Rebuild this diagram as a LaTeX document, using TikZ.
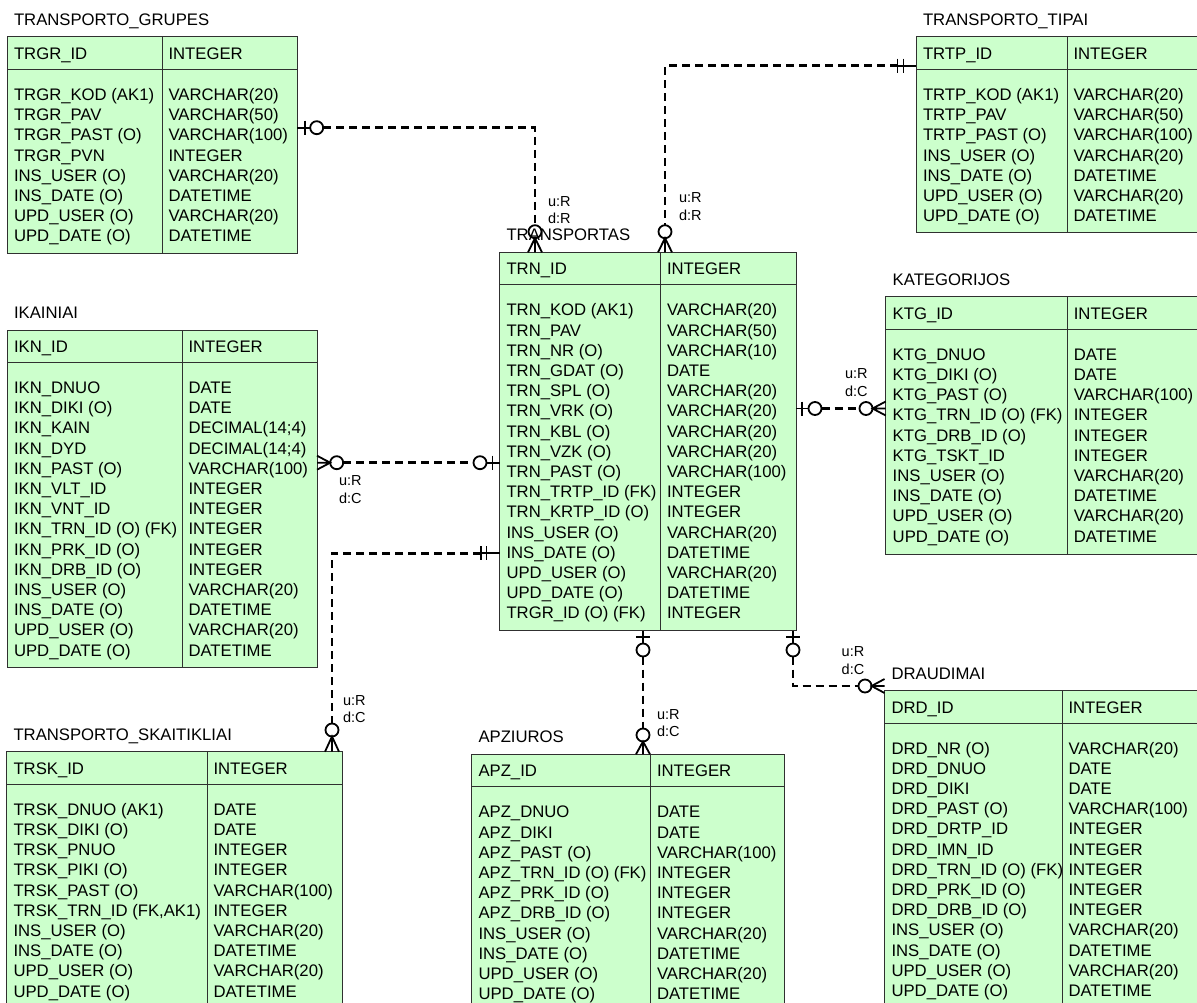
\documentclass[tikz,border=0pt]{standalone}
\usepackage{fontspec}
\setmainfont{Liberation Sans}
\usetikzlibrary{calc}
\definecolor{tblfill}{HTML}{CCFFCC}
\definecolor{tblline}{HTML}{303030}
\tikzset{
  tbl/.style={rectangle, draw=tblline, fill=tblfill, line width=1pt, inner sep=0pt, outer sep=0pt, anchor=north west},
  tblrule/.style={draw=tblline, line width=1pt},
  cell/.style={anchor=west, inner sep=0pt, outer sep=0pt, text height=12pt, text depth=0pt, font=\fontsize{16.7}{20}\selectfont},
  lbl/.style={anchor=west, inner sep=0pt, outer sep=0pt, text height=10.4pt, text depth=0pt, font=\fontsize{14.5}{17}\selectfont},
  circ/.style={circle, draw=black, line width=1.8pt, minimum size=13pt, inner sep=0pt, outer sep=0pt},
  sym/.style={draw=black, line width=1.8pt},
  rel/.style={draw=black, line width=2.8pt, dash pattern=on 8pt off 5pt},
}
% #1 name #2 left #3 divider #4 right #5 top #6 bottom #7 title #8 key
\newcommand{\ertable}[8]{%
  \pgfmathsetmacro{\erw}{#4-#2}%
  \pgfmathsetmacro{\erh}{#6-#5}%
  \node[tbl, minimum width=\erw pt, minimum height=\erh pt] (#1) at ({#2},{#5}) {};
  \draw[tblrule] ({#2},{#5+32.5}) -- ({#4},{#5+32.5});
  \draw[tblrule] ({#3},{#5}) -- ({#3},{#6});
  \node[cell] (#1-title) at ({#2+7},{#5-17.5}) {#7};
  \node[cell] (#1-key) at ({#2+7},{#5+16.5}) {#8};
  \node[cell] (#1-keytype) at ({#3+6.5},{#5+16.5}) {INTEGER};
}
% #1 prefix #2 x #3 top #4 list
\newcommand{\errows}[4]{%
  \foreach \rr [count=\nn] in {#4} {
    \node[cell] (#1\nn) at ({#2},{#3+57.5+(\nn-1)*20.2}) {\rr};
  }
}
\begin{document}
\begin{tikzpicture}[x=1pt,y=-1pt]
\useasboundingbox (0,0) rectangle (1197,1003);
\clip (0,0) rectangle (1197,1003);

% ---------------- tables
\ertable{grp}{7}{162}{297}{37}{254}{TRANSPORTO\_GRUPES}{TRGR\_ID}
\errows{grp-l}{14}{37}{TRGR\_KOD (AK1),TRGR\_PAV,TRGR\_PAST (O),TRGR\_PVN,INS\_USER (O),INS\_DATE (O),UPD\_USER (O),UPD\_DATE (O)}
\errows{grp-r}{168.5}{37}{VARCHAR(20),VARCHAR(50),VARCHAR(100),INTEGER,VARCHAR(20),DATETIME,VARCHAR(20),DATETIME}

\ertable{tip}{916}{1067}{1215}{37}{233}{TRANSPORTO\_TIPAI}{TRTP\_ID}
\errows{tip-l}{923}{37}{TRTP\_KOD (AK1),TRTP\_PAV,TRTP\_PAST (O),INS\_USER (O),INS\_DATE (O),UPD\_USER (O),UPD\_DATE (O)}
\errows{tip-r}{1073.5}{37}{VARCHAR(20),VARCHAR(50),VARCHAR(100),VARCHAR(20),DATETIME,VARCHAR(20),DATETIME}

\ertable{trn}{499.5}{660.5}{796}{252.3}{630.5}{TRANSPORTAS}{TRN\_ID}
\errows{trn-l}{506.5}{252.3}{TRN\_KOD (AK1),TRN\_PAV,TRN\_NR (O),TRN\_GDAT (O),TRN\_SPL (O),TRN\_VRK (O),TRN\_KBL (O),TRN\_VZK (O),TRN\_PAST (O),TRN\_TRTP\_ID (FK),TRN\_KRTP\_ID (O),INS\_USER (O),INS\_DATE (O),UPD\_USER (O),UPD\_DATE (O),TRGR\_ID (O) (FK)}
\errows{trn-r}{667}{252.3}{VARCHAR(20),VARCHAR(50),VARCHAR(10),DATE,VARCHAR(20),VARCHAR(20),VARCHAR(20),VARCHAR(20),VARCHAR(100),INTEGER,INTEGER,VARCHAR(20),DATETIME,VARCHAR(20),DATETIME,INTEGER}

\ertable{ktg}{885.7}{1067.3}{1215}{296.7}{554}{KATEGORIJOS}{KTG\_ID}
\errows{ktg-l}{892.7}{296.7}{KTG\_DNUO,KTG\_DIKI (O),KTG\_PAST (O),KTG\_TRN\_ID (O) (FK),KTG\_DRB\_ID (O),KTG\_TSKT\_ID,INS\_USER (O),INS\_DATE (O),UPD\_USER (O),UPD\_DATE (O)}
\errows{ktg-r}{1073.8}{296.7}{DATE,DATE,VARCHAR(100),INTEGER,INTEGER,INTEGER,VARCHAR(20),DATETIME,VARCHAR(20),DATETIME}

\ertable{ikn}{7}{182}{317}{330}{667.5}{IKAINIAI}{IKN\_ID}
\errows{ikn-l}{14}{330}{IKN\_DNUO,IKN\_DIKI (O),IKN\_KAIN,IKN\_DYD,IKN\_PAST (O),IKN\_VLT\_ID,IKN\_VNT\_ID,IKN\_TRN\_ID (O) (FK),IKN\_PRK\_ID (O),IKN\_DRB\_ID (O),INS\_USER (O),INS\_DATE (O),UPD\_USER (O),UPD\_DATE (O)}
\errows{ikn-r}{188.5}{330}{DATE,DATE,DECIMAL(14;4),DECIMAL(14;4),VARCHAR(100),INTEGER,INTEGER,INTEGER,INTEGER,INTEGER,VARCHAR(20),DATETIME,VARCHAR(20),DATETIME}

\ertable{tsk}{6.5}{207}{342}{751.7}{1015}{TRANSPORTO\_SKAITIKLIAI}{TRSK\_ID}
\errows{tsk-l}{13.5}{751.7}{TRSK\_DNUO (AK1),TRSK\_DIKI (O),TRSK\_PNUO,TRSK\_PIKI (O),TRSK\_PAST (O),{TRSK\_TRN\_ID (FK,AK1)},INS\_USER (O),INS\_DATE (O),UPD\_USER (O),UPD\_DATE (O)}
\errows{tsk-r}{213.5}{751.7}{DATE,DATE,INTEGER,INTEGER,VARCHAR(100),INTEGER,VARCHAR(20),DATETIME,VARCHAR(20),DATETIME}

\ertable{apz}{471.5}{650.5}{784}{754.3}{1015}{APZIUROS}{APZ\_ID}
\errows{apz-l}{478.5}{754.3}{APZ\_DNUO,APZ\_DIKI,APZ\_PAST (O),APZ\_TRN\_ID (O) (FK),APZ\_PRK\_ID (O),APZ\_DRB\_ID (O),INS\_USER (O),INS\_DATE (O),UPD\_USER (O),UPD\_DATE (O)}
\errows{apz-r}{657}{754.3}{DATE,DATE,VARCHAR(100),INTEGER,INTEGER,INTEGER,VARCHAR(20),DATETIME,VARCHAR(20),DATETIME}

\ertable{drd}{884.5}{1062}{1215}{690.5}{1030}{DRAUDIMAI}{DRD\_ID}
\errows{drd-l}{891.5}{690.5}{DRD\_NR (O),DRD\_DNUO,DRD\_DIKI,DRD\_PAST (O),DRD\_DRTP\_ID,DRD\_IMN\_ID,DRD\_TRN\_ID (O) (FK),DRD\_PRK\_ID (O),DRD\_DRB\_ID (O),INS\_USER (O),INS\_DATE (O),UPD\_USER (O),UPD\_DATE (O)}
\errows{drd-r}{1068.5}{690.5}{VARCHAR(20),DATE,DATE,VARCHAR(100),INTEGER,INTEGER,INTEGER,INTEGER,INTEGER,VARCHAR(20),DATETIME,VARCHAR(20),DATETIME}

% ---------------- C1: TRANSPORTO_GRUPES -> TRANSPORTAS
\node[circ] (c1a) at (316.7,127.7) {};
\node[circ] (c1b) at (535,231.7) {};
\draw[rel] (c1a) -| (c1b);
\draw[sym] (grp.east |- c1a) -- (c1a.west);
\draw[sym] ($(grp.east |- c1a)+(8,-7)$) -- ++(0,14);
\draw[sym] ($(c1b.south |- trn.north)+(-7,0)$) -- (c1b.south) -- ($(c1b.south |- trn.north)+(7,0)$)
           (c1b.south) -- (c1b.south |- trn.north);
\node[lbl] (l1u) at (548,201) {u:R};
\node[lbl] (l1d) at (548,218.5) {d:R};

% ---------------- C2: TRANSPORTO_TIPAI -> TRANSPORTAS
\coordinate (c2a) at (897.5,65.7);
\node[circ] (c2b) at (665,231.7) {};
\draw[rel] (c2a) -| (c2b);
\draw[sym] (c2a) -- (tip.west |- c2a);
\draw[sym] ($(c2a)+(0,-7)$) -- ++(0,14) ($(c2a)+(6,-7)$) -- ++(0,14);
\draw[sym] ($(c2b.south |- trn.north)+(-7,0)$) -- (c2b.south) -- ($(c2b.south |- trn.north)+(7,0)$)
           (c2b.south) -- (c2b.south |- trn.north);
\node[lbl] (l2u) at (679,197) {u:R};
\node[lbl] (l2d) at (679,215) {d:R};

% ---------------- C3: TRANSPORTAS -> IKAINIAI
\node[circ] (c3a) at (336.7,462.7) {};
\node[circ] (c3b) at (480,462.7) {};
\draw[rel] (c3a) -- (c3b);
\draw[sym] ($(ikn.east |- c3a)+(0,-7)$) -- (c3a.west) -- ($(ikn.east |- c3a)+(0,7)$)
           (c3a.west) -- (ikn.east |- c3a);
\draw[sym] (c3b.east) -- (trn.west |- c3b);
\draw[sym] ($(trn.west |- c3b)+(-7,-7)$) -- ++(0,14);
\node[lbl] (l3u) at (339,480) {u:R};
\node[lbl] (l3d) at (339,498) {d:C};

% ---------------- C4: TRANSPORTAS -> TRANSPORTO_SKAITIKLIAI
\coordinate (c4a) at (481,553.3);
\node[circ] (c4b) at (332,730) {};
\draw[rel] (c4a) -| (c4b);
\draw[sym] (c4a) -- (trn.west |- c4a);
\draw[sym] ($(c4a)+(0,-7)$) -- ++(0,14) ($(c4a)+(5.5,-7)$) -- ++(0,14);
\draw[sym] ($(c4b.south |- tsk.north)+(-7,0)$) -- (c4b.south) -- ($(c4b.south |- tsk.north)+(7,0)$)
           (c4b.south) -- (c4b.south |- tsk.north);
\node[lbl] (l4u) at (343,700) {u:R};
\node[lbl] (l4d) at (343,717.5) {d:C};

% ---------------- C5: TRANSPORTAS -> APZIUROS
\node[circ] (c5a) at (643,650) {};
\node[circ] (c5b) at (643,735) {};
\draw[rel] (c5a) -- (c5b);
\draw[sym] (c5a.north) -- (c5a.north |- trn.south);
\draw[sym] ($(c5a.north |- trn.south)+(-7,6.7)$) -- ++(14,0);
\draw[sym] ($(c5b.south |- apz.north)+(-7,0)$) -- (c5b.south) -- ($(c5b.south |- apz.north)+(7,0)$)
           (c5b.south) -- (c5b.south |- apz.north);
\node[lbl] (l5u) at (657,714) {u:R};
\node[lbl] (l5d) at (657,731.5) {d:C};

% ---------------- C6: TRANSPORTAS -> DRAUDIMAI
\node[circ] (c6a) at (793,650) {};
\node[circ] (c6b) at (865,686) {};
\draw[rel] (c6a) |- (c6b);
\draw[sym] (c6a.north) -- (c6a.north |- trn.south);
\draw[sym] ($(c6a.north |- trn.south)+(-7,6.7)$) -- ++(14,0);
\draw[sym] ($(drd.west |- c6b)+(0,-7)$) -- (c6b.east) -- ($(drd.west |- c6b)+(0,7)$)
           (c6b.east) -- (drd.west |- c6b);
\node[lbl] (l6u) at (841.7,651.7) {u:R};
\node[lbl] (l6d) at (841.7,669.3) {d:C};

% ---------------- C7: TRANSPORTAS -> KATEGORIJOS
\node[circ] (c7a) at (815,408.5) {};
\node[circ] (c7b) at (866,408.5) {};
\draw[rel] (c7a) -- (c7b);
\draw[sym] (trn.east |- c7a) -- (c7a.west);
\draw[sym] ($(trn.east |- c7a)+(5.7,-7)$) -- ++(0,14);
\draw[sym] ($(ktg.west |- c7b)+(0,-7)$) -- (c7b.east) -- ($(ktg.west |- c7b)+(0,7)$)
           (c7b.east) -- (ktg.west |- c7b);
\node[lbl] (l7u) at (845,373.3) {u:R};
\node[lbl] (l7d) at (845,391.7) {d:C};
\end{tikzpicture}
\end{document}
